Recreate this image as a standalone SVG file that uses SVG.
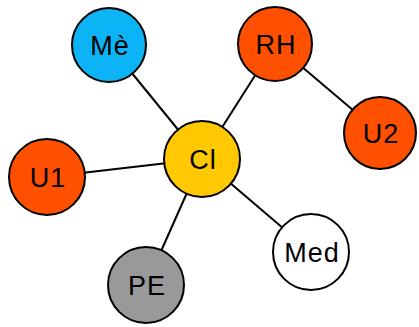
<svg xmlns="http://www.w3.org/2000/svg" width="419" height="327" viewBox="0 0 419 327">
<style>
.n circle{stroke:#000;stroke-width:2}
.n text{font-family:"Liberation Sans",Arial,sans-serif;font-size:27px;text-anchor:middle;fill:#000;letter-spacing:1px}
.e line{stroke:#000;stroke-width:2}
</style>
<rect width="419" height="327" fill="#fff"/>
<g id="edges" class="e">
<line x1="202" y1="159" x2="109" y2="45"/>
<line x1="202" y1="159" x2="275" y2="44"/>
<line x1="202" y1="159" x2="47" y2="177"/>
<line x1="202" y1="159" x2="146" y2="285"/>
<line x1="202" y1="159" x2="311" y2="252"/>
<line x1="275" y1="44" x2="380" y2="133"/>
</g>
<g id="Me" class="n"><circle cx="109" cy="45" r="37" fill="#0db4f5"/><text x="110" y="55">Mè</text></g>
<g id="RH" class="n"><circle cx="275" cy="44" r="37" fill="#ff5000"/><text x="276" y="54">RH</text></g>
<g id="U2" class="n"><circle cx="380" cy="133" r="36" fill="#ff5000"/><text x="381" y="143">U2</text></g>
<g id="Cl" class="n"><circle cx="202" cy="159" r="38" fill="#ffc800"/><text x="203" y="169">Cl</text></g>
<g id="U1" class="n"><circle cx="47" cy="177" r="38" fill="#ff5000"/><text x="48" y="187">U1</text></g>
<g id="Med" class="n"><circle cx="311" cy="252" r="38" fill="#fff"/><text x="312" y="262">Med</text></g>
<g id="PE" class="n"><circle cx="146" cy="285" r="38" fill="#999"/><text x="147" y="295">PE</text></g>
</svg>
